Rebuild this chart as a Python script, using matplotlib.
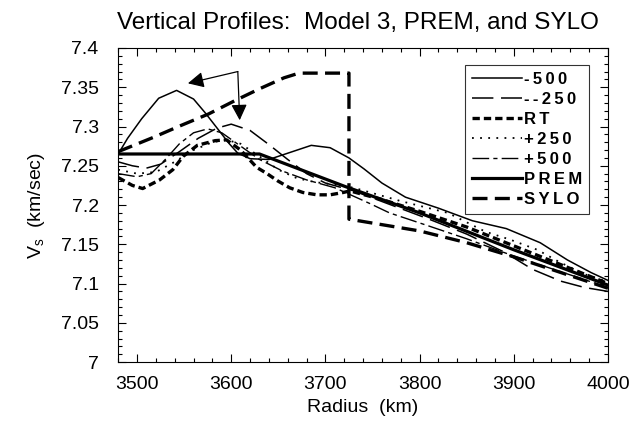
import matplotlib
matplotlib.use("Agg")
import matplotlib.pyplot as plt
from matplotlib.ticker import MultipleLocator

plt.rcParams['font.family'] = ['Liberation Sans', 'DejaVu Sans']
plt.rcParams['mathtext.fontset'] = 'custom'
plt.rcParams['mathtext.rm'] = 'Liberation Sans'

# radius (km) and Vs (km/sec)
r_m500 = [3480, 3490, 3505, 3523, 3542, 3560, 3572, 3585, 3598, 3607, 3620, 3640,
          3660, 3685, 3705, 3725, 3741, 3760, 3785, 3820, 3856, 3892, 3928, 3957, 3982, 4000]
v_m500 = [7.265, 7.285, 7.31, 7.336, 7.346, 7.335, 7.318, 7.298, 7.278, 7.266, 7.259, 7.258,
          7.266, 7.276, 7.273, 7.26, 7.246, 7.228, 7.21, 7.196, 7.18, 7.17, 7.152, 7.13, 7.114, 7.104]

r_m250 = [3480, 3495, 3510, 3525, 3545, 3565, 3585, 3600, 3620, 3640, 3660, 3680, 3700,
          3730, 3770, 3810, 3850, 3890, 3920, 3950, 3975, 4000]
v_m250 = [7.255, 7.25, 7.247, 7.252, 7.268, 7.285, 7.298, 7.303, 7.295, 7.277, 7.258, 7.24, 7.228,
          7.218, 7.2, 7.182, 7.163, 7.14, 7.118, 7.103, 7.095, 7.09]

r_rt = [3480, 3495, 3506, 3524, 3538, 3549, 3564, 3583, 3595, 3610, 3627, 3638, 3649, 3662,
        3676, 3691, 3705, 3719, 3726, 3760, 3800, 3850, 3900, 3950, 4000]
v_rt = [7.235, 7.225, 7.221, 7.232, 7.245, 7.262, 7.276, 7.282, 7.283, 7.27, 7.248, 7.24, 7.231, 7.222,
        7.216, 7.213, 7.213, 7.216, 7.218, 7.207, 7.192, 7.172, 7.148, 7.124, 7.1]

r_p250 = [3480, 3500, 3520, 3540, 3560, 3580, 3595, 3610, 3630, 3650, 3670, 3690, 3710,
          3730, 3780, 3830, 3870, 3896, 3925, 3949, 3975, 4000]
v_p250 = [7.245, 7.24, 7.242, 7.255, 7.27, 7.28, 7.283, 7.278, 7.262, 7.245, 7.234, 7.229, 7.226,
          7.222, 7.205, 7.19, 7.166, 7.156, 7.143, 7.127, 7.112, 7.102]

r_p500 = [3480, 3500, 3515, 3530, 3545, 3560, 3575, 3590, 3610, 3630, 3655, 3680, 3710,
          3747, 3768, 3793, 3808, 3850, 3900, 3950, 4000]
v_p500 = [7.24, 7.236, 7.24, 7.258, 7.278, 7.292, 7.297, 7.292, 7.275, 7.258, 7.243, 7.232, 7.222,
          7.202, 7.19, 7.18, 7.174, 7.157, 7.135, 7.115, 7.095]

r_prem = [3480, 3630, 3720, 3800, 3900, 4000]
v_prem = [7.265, 7.265, 7.224, 7.19, 7.143, 7.098]

r_sylo = [3480, 3517, 3546, 3576, 3604, 3630, 3656, 3672, 3725, 3725, 3760, 3800, 3850, 3900, 3950, 4000]
v_sylo = [7.268, 7.286, 7.301, 7.316, 7.333, 7.348, 7.362, 7.368, 7.368, 7.182, 7.175, 7.167, 7.152,
          7.134, 7.114, 7.094]

y_ticks = [7, 7.05, 7.1, 7.15, 7.2, 7.25, 7.3, 7.35, 7.4]
y_labels = ['7', '7.05', '7.1', '7.15', '7.2', '7.25', '7.3', '7.35', '7.4']
x_ticks = [3500, 3600, 3700, 3800, 3900, 4000]

fig = plt.figure(figsize=(6.32, 4.21), dpi=100)
ax = fig.add_axes([0.187, 0.14, 0.775, 0.746])


def spaced(s):
    # the legend text is letter-spaced in the original
    return '\u2009'.join(s)


ax.plot(r_m500, v_m500, color='k', lw=1.1, label=spaced('-500'))
ax.plot(r_m250, v_m250, color='k', lw=1.1, dashes=(14, 5), label=spaced('--250'))
ax.plot(r_rt, v_rt, color='k', lw=2.4, dashes=(2.2, 1.2), label=spaced('RT'))
ax.plot(r_p250, v_p250, color='k', lw=1.3, dashes=(1, 3.5), label=spaced('+250'))
ax.plot(r_p500, v_p500, color='k', lw=1.0, dashes=(12, 3, 3, 3), label=spaced('+500'))
ax.plot(r_prem, v_prem, color='k', lw=2.3, label=spaced('PREM'))
ax.plot(r_sylo, v_sylo, color='k', lw=2.4, dashes=(4.5, 2.2), label=spaced('SYLO'))

# arrows pointing from the SYLO step toward the model peaks
ax.annotate('', xy=(3554, 7.355), xytext=(3607, 7.370),
            arrowprops=dict(arrowstyle='-|>', color='k', lw=0.9, mutation_scale=24,
                            shrinkA=0, shrinkB=0))
ax.annotate('', xy=(3609, 7.308), xytext=(3607, 7.370),
            arrowprops=dict(arrowstyle='-|>', color='k', lw=0.9, mutation_scale=24,
                            shrinkA=0, shrinkB=0))

ax.set_xlim(3480, 4000)
ax.set_ylim(7, 7.4)
ax.set_xticks(x_ticks)
ax.set_yticks(y_ticks)
ax.set_yticklabels(y_labels)
ax.xaxis.set_minor_locator(MultipleLocator(20))
ax.yaxis.set_minor_locator(MultipleLocator(0.01))
ax.tick_params(which='both', direction='in', top=True, right=True, labelsize=14, width=0.8)
ax.tick_params(axis='y', which='major', length=6, pad=14)
ax.tick_params(axis='x', which='major', length=6, pad=10)
ax.tick_params(which='minor', length=3)
for s in ax.spines.values():
    s.set_linewidth(0.8)

ax.set_xlabel('Radius  (km)', fontsize=14, labelpad=4)
ax.set_ylabel(r'V$_{\mathrm{s}}$  (km/sec)', fontsize=14, labelpad=10)
ax.set_title('Vertical Profiles:  Model 3, PREM, and SYLO', fontsize=17.5, pad=14, x=0.49)

leg = ax.legend(loc='upper right', bbox_to_anchor=(0.962, 0.945), frameon=True, fancybox=False,
                edgecolor='k', handlelength=3.0, handletextpad=0.15, borderpad=0.4,
                labelspacing=0.3, borderaxespad=0.0, prop={'weight': 'bold', 'size': 12})
leg.get_frame().set_linewidth(0.8)

fig.savefig('out.png', dpi=100)
